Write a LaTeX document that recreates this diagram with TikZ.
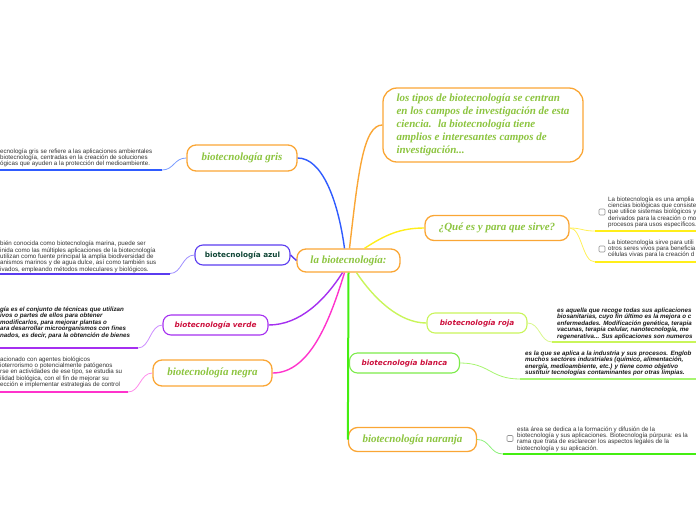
\documentclass[tikz,border=0pt]{standalone}
\usepackage{fontspec}
\setmainfont{Liberation Serif}
\setsansfont{Liberation Sans}
\newfontfamily\vfont{DejaVu Sans}
\definecolor{orng}{HTML}{FAA635}
\definecolor{sgreen}{HTML}{8CC43F}
\definecolor{bluec}{HTML}{2F5BFF}
\definecolor{bluel}{HTML}{7A9CFF}
\definecolor{azulc}{HTML}{5A3CF0}
\definecolor{azull}{HTML}{A090FF}
\definecolor{azultxt}{HTML}{0F4535}
\definecolor{verdec}{HTML}{A52FF0}
\definecolor{verdel}{HTML}{CC8CFF}
\definecolor{magc}{HTML}{FF33CC}
\definecolor{magl}{HTML}{FF8CEB}
\definecolor{yel}{HTML}{FFEE1A}
\definecolor{yell}{HTML}{FFF05A}
\definecolor{rojac}{HTML}{C9F55A}
\definecolor{rojal}{HTML}{D9F78C}
\definecolor{greenc}{HTML}{44EE11}
\definecolor{blancac}{HTML}{7CEB4A}
\definecolor{blancal}{HTML}{A7F570}
\definecolor{naranjal}{HTML}{8CF07A}
\definecolor{crim}{HTML}{CC0F3C}
\definecolor{txtgray}{HTML}{333333}
\tikzset{
  serifnode/.style={draw=orng, line width=1.3pt, rounded corners=9pt, font=\fontsize{11}{13}\selectfont\bfseries\itshape, text=sgreen, inner sep=0pt, align=center},
  sansnode/.style={line width=1.1pt, rounded corners=8pt, font=\vfont\fontsize{7.3}{9}\selectfont\bfseries, inner sep=0pt},
  sansnodei/.style={line width=1.1pt, rounded corners=8pt, font=\vfont\fontsize{7.3}{9}\selectfont\bfseries\itshape, text=crim, inner sep=0pt},
  smalltxt/.style={font=\sffamily\fontsize{6.2}{6.3}\selectfont, text=txtgray, anchor=north west, inner sep=0pt, align=left},
  smallbi/.style={font=\sffamily\fontsize{6.2}{6.5}\selectfont\bfseries\itshape, text=black!90, anchor=north west, inner sep=0pt, align=left},
  cbox/.style={draw=gray!85, fill=white, rounded corners=1pt, minimum size=6pt, inner sep=0pt, line width=.6pt},
  branch/.style={line width=1.4pt},
  twig/.style={line width=.8pt},
  under/.style={line width=2pt}
}
\begin{document}
\begin{tikzpicture}[x=1pt,y=-1pt]
\useasboundingbox (0,0) rectangle (696,520);

% main nodes
\node[serifnode, minimum width=103pt, minimum height=23pt] (center) at (348.5,260.5) {la biotecnología:};
\node[serifnode, minimum width=200pt, minimum height=74pt, rounded corners=14pt, align=left] (top) at (483,125)
 {los tipos de biotecnología se centran\\en los campos de investigación de esta\\ciencia.~ la biotecnología tiene\\amplios e interesantes campos de\\investigación...};
\node[serifnode, minimum width=110pt, minimum height=26pt] (gris) at (242,158) {biotecnología gris};
\node[sansnode, draw=azulc, text=azultxt, minimum width=95pt, minimum height=20pt] (azul) at (242.5,255) {biotecnología azul};
\node[sansnodei, draw=verdec, minimum width=105pt, minimum height=20pt] (verde) at (215.5,325) {biotecnología verde};
\node[serifnode, minimum width=119pt, minimum height=26pt] (negra) at (212.5,373) {biotecnología negra};
\node[serifnode, minimum width=144pt, minimum height=25pt] (que) at (497,228) {¿Qué es y para que sirve?};
\node[sansnodei, draw=rojac, minimum width=100pt, minimum height=20pt] (roja) at (477,323) {biotecnología roja};
\node[sansnodei, draw=blancac, minimum width=110pt, minimum height=20pt] (blanca) at (404.5,363) {biotecnología blanca};
\node[serifnode, minimum width=128pt, minimum height=24pt] (naranja) at (412.5,439.5) {biotecnología naranja};

% main connectors
\draw[branch, draw=bluec] ([xshift=-4pt]center.north) .. controls (338,200) and (322,158) .. (gris.east);
\draw[branch, draw=orng] ([xshift=1pt]center.north) .. controls (358,175) and (363,125) .. (top.west);
\draw[branch, draw=yel] ([xshift=16pt]center.north) .. controls (385,235) and (400,228) .. (que.west);
\draw[branch, draw=azulc] (azul.east) -- (center.west);
\draw[branch, draw=verdec] ([xshift=-6pt]center.south) .. controls (325,300) and (300,325) .. (verde.east);
\draw[branch, draw=magc] ([xshift=-4pt]center.south) .. controls (330,320) and (310,373) .. (negra.east);
\draw[branch, draw=rojac] ([xshift=8pt]center.south) .. controls (375,300) and (400,323) .. (roja.west);
\draw[line width=2pt, draw=greenc] (center.south) -- (naranja.west);

% underline coordinates
\coordinate (g1) at (162,170); \coordinate (g0) at (0,170);
\coordinate (a1) at (170,273.5); \coordinate (a0) at (0,273.5);
\coordinate (v1) at (138,348); \coordinate (v0) at (0,348);
\coordinate (n1) at (128,392); \coordinate (n0) at (0,392);
\coordinate (q1) at (595,231); \coordinate (q1e) at (696,231);
\coordinate (q2) at (595,262); \coordinate (q2e) at (696,262);
\coordinate (r1) at (552,342); \coordinate (r1e) at (696,342);
\coordinate (b1) at (520,379); \coordinate (b1e) at (696,379);
\coordinate (o1) at (503,454); \coordinate (o1e) at (696,454);

% sub-branches
\draw[twig, draw=bluel] (gris.west) .. controls (174,158) and (174,170) .. (g1);
\draw[under, draw=bluec] (g1) -- (g0);
\draw[twig, draw=azull] (azul.west) .. controls (182,255) and (182,273.5) .. (a1);
\draw[under, draw=azulc] (a1) -- (a0);
\draw[twig, draw=verdel] (verde.west) .. controls (150,325) and (150,348) .. (v1);
\draw[under, draw=verdec] (v1) -- (v0);
\draw[twig, draw=magl] (negra.west) .. controls (140,373) and (140,392) .. (n1);
\draw[under, draw=magc] (n1) -- (n0);
\draw[twig, draw=yell] (que.east) .. controls (582,228) and (582,231) .. (q1);
\draw[under, draw=yel] (q1) -- (q1e);
\draw[twig, draw=yell] (que.east) .. controls (582,228) and (582,262) .. (q2);
\draw[under, draw=yel] (q2) -- (q2e);
\draw[twig, draw=rojal] (roja.east) .. controls (540,323) and (540,342) .. (r1);
\draw[under, draw=rojac] (r1) -- (r1e);
\draw[twig, draw=blancal] (blanca.east) .. controls (490,363) and (490,379) .. (b1);
\draw[under, draw=blancal] (b1) -- (b1e);
\draw[twig, draw=naranjal] (naranja.east) .. controls (490,439.5) and (490,454) .. (o1);
\draw[under, draw=greenc] (o1) -- (o1e);

% texts left
\node[smalltxt] (tgris) at (0,148.4) {ecnología gris se refiere a las aplicaciones ambientales\\biotecnología, centradas en la creación de soluciones\\ógicas que ayuden a la protección del medioambiente.};
\node[smalltxt] (tazul) at (0,241.2) {bién conocida como biotecnología marina, puede ser\\inida como las múltiples aplicaciones de la biotecnología\\utilizan como fuente principal la amplia biodiversidad de\\anismos marinos y de agua dulce, así como también sus\\ivados, empleando métodos moleculares y biológicos.};
\node[smallbi] (tverde) at (0,306.4) {gía es el conjunto de técnicas que utilizan\\ivos o partes de ellos para obtener\\modificarlos, para mejorar plantas o\\ara desarrollar microorganismos con fines\\nados, es decir, para la obtención de bienes};
\node[smalltxt] (tnegra) at (0,356.4) {acionado con agentes biológicos\\ioterrorismo o potencialmente patógenos\\rse en actividades de ese tipo, se estudia su\\ilidad biológica, con el fin de mejorar su\\ección e implementar estrategias de control};

% texts right
\node[cbox] (cb1) at (602,212) {};
\node[smalltxt] (tque1) at (608,196.4) {La biotecnología es una amplia\\ciencias biológicas que consiste\\que utilice sistemas biológicos y\\derivados para la creación o mo\\procesos para usos específicos.};
\node[cbox] (cb2) at (602,249) {};
\node[smalltxt] (tque2) at (608,239.4) {La biotecnología sirve para utili\\otros seres vivos para beneficia\\células vivas para la creación d};
\node[smallbi] (troja) at (557,307.4) {es aquella que recoge todas sus aplicaciones\\biosanitarias, cuyo fin último es la mejora o c\\enfermedades. Modificación genética, terapia\\vacunas, terapia celular, nanotecnología, me\\regenerativa... Sus aplicaciones son numeros};
\node[smallbi] (tblanca) at (525,350.4) {es la que se aplica a la industria y sus procesos. Englob\\muchos sectores industriales (químico, alimentación,\\energía, medioambiente, etc.) y tiene como objetivo\\sustituir tecnologías contaminantes por otras limpias.};
\node[cbox] (cb3) at (510,438.5) {};
\node[smalltxt] (tnaranja) at (517,426.4) {esta área se dedica a la formación y difusión de la\\biotecnología y sus aplicaciones. Biotecnología púrpura: es la\\rama que trata de esclarecer los aspectos legales de la\\biotecnología y su aplicación.};
\end{tikzpicture}
\end{document}
